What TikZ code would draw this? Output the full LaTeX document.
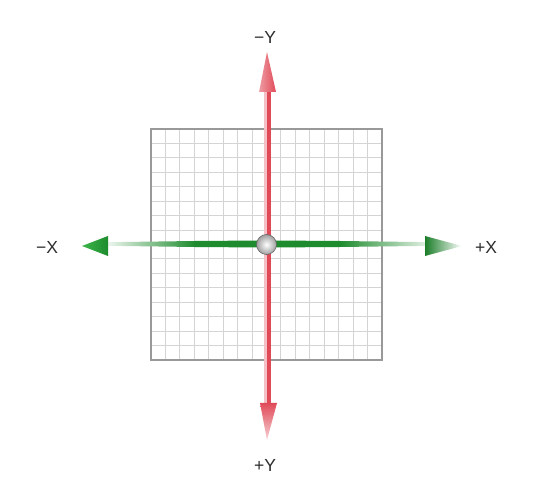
\documentclass[tikz,border=0pt]{standalone}
\usepackage{fontspec}
\setmainfont{Liberation Sans}
\definecolor{gridc}{HTML}{D4D4D4}
\definecolor{framec}{HTML}{999999}
\definecolor{axgreen}{HTML}{1E8C2E}
\definecolor{axgreenl}{HTML}{3DB54A}
\definecolor{axred}{HTML}{E04A58}
\definecolor{labc}{HTML}{2E2E2E}
\tikzset{
  gridline/.style={draw=gridc, line width=0.9pt},
  frameline/.style={draw=framec, line width=1.3pt},
  axlabel/.style={text=labc, font=\fontsize{17.5}{20}\selectfont, inner sep=0pt},
  originball/.style={circle, inner sep=0pt, minimum size=20pt, draw=gray!80!black, line width=0.6pt,
    inner color=white, outer color=gray!75},
}
\begin{document}
\begin{tikzpicture}[x=1pt,y=-1pt]
\useasboundingbox[fill=white] (0,0) rectangle (539,486);
% grid
\foreach \i in {1,...,15}{
  \draw[gridline] ({151+\i*14.4375},129) -- ({151+\i*14.4375},360);
  \draw[gridline] (151,{129+\i*14.4375}) -- (382,{129+\i*14.4375});
}
\draw[frameline] (151,129) rectangle (382,360);
% green X axis
\shade[left color=white, right color=axgreen]
  (100,242.3) -- (195,241) -- (195,247) -- (100,245.7) -- cycle;
\fill[axgreen] (194.5,241) -- (262,240.5) -- (262,247.5) -- (194.5,247) -- cycle;
\fill[axgreen] (271,240.5) -- (340,241) -- (340,247) -- (271,247.5) -- cycle;
\shade[left color=axgreen, right color=white]
  (339.5,241) -- (440,242.3) -- (440,245.7) -- (339.5,247) -- cycle;
\shade[left color=axgreenl, right color=axgreen]
  (82,246) -- (108,236) -- (108,256) -- cycle;
\shade[left color=axgreen!90!black, right color=white]
  (425,236) -- (462,246) -- (425,256) -- cycle;
% red Y axis
\fill[axred!35!white] (263.5,92) rectangle (266.5,403);
\fill[axred] (266.5,92) rectangle (270.5,403);
\shade[left color=axred!55!white, right color=axred]
  (267,52) -- (276,92) -- (259,92) -- cycle;
\shade[top color=axred, bottom color=axred!25!white]
  (260,403) -- (277,403) -- (267,440) -- cycle;
% origin
\node[originball] (o) at (266.5,244.5) {};
% labels
\node[axlabel] (ny) at (265,37) {−Y};
\node[axlabel] (py) at (265,465) {+Y};
\node[axlabel] (nx) at (47,247) {−X};
\node[axlabel] (px) at (486,247) {+X};
\end{tikzpicture}
\end{document}
